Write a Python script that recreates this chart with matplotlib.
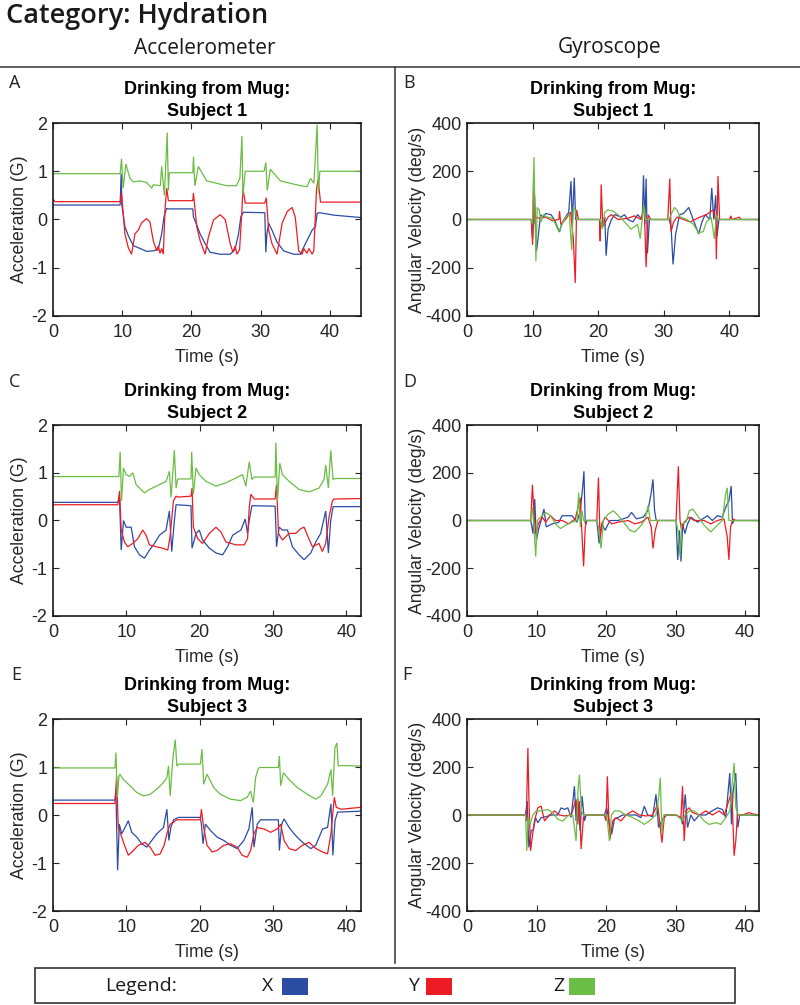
import matplotlib
matplotlib.use('Agg')
import matplotlib.pyplot as plt
from matplotlib.patches import Rectangle
from matplotlib.lines import Line2D

plt.rcParams['axes.unicode_minus'] = False

# ---------------- data (time in s) ----------------
# Panel A: accelerometer, subject 1
A_X_t = [0, 9.7, 9.85, 9.95, 10.39, 10.87, 11.6, 12.56, 13.53, 14.49, 15.2, 15.7, 16.04, 16.43, 16.67,
         20.2, 20.29, 20.68, 21.26, 21.98, 22.7, 24.15, 25.6, 26.3, 26.8, 27.15, 27.5,
         30.6, 30.75, 30.9, 31.16, 31.64, 32.37, 33.33, 34.78, 35.75, 36.47, 36.96, 37.44, 37.92, 38.16, 38.55, 40.6, 44.5]
A_X_v = [0.3, 0.3, 0.95, 0.3, -0.15, -0.33, -0.54, -0.6, -0.66, -0.65, -0.62, -0.3, 0.06, 0.23, 0.22,
         0.22, 0.05, -0.08, -0.3, -0.5, -0.68, -0.72, -0.72, -0.62, -0.3, 0.06, 0.15,
         0.14, -0.68, -0.3, -0.08, -0.22, -0.47, -0.65, -0.72, -0.72, -0.5, -0.36, -0.22, -0.15, 0.13, 0.14, 0.09, 0.04]
A_Y_t = [0, 0.3, 0.6, 9.7, 9.9, 10.39, 10.87, 11.35, 11.84, 12.32, 12.8, 13.53, 14.0, 14.49, 14.98,
         15.2, 15.46, 15.7, 15.94, 16.18, 16.43, 16.67,
         20.2, 20.29, 20.77, 21.26, 21.98, 22.46, 23.19, 24.15, 24.88, 25.6, 26.0, 26.3, 26.57, 26.96, 27.3, 27.44, 27.78,
         30.6, 30.82, 31.16, 31.64, 32.37, 33.1, 33.82, 34.54, 35.0, 35.5, 36.0, 36.23, 36.7, 36.96, 37.44, 37.68,
         38.07, 38.3, 38.65, 44.5]
A_Y_v = [0.42, 0.37, 0.37, 0.37, 0.55, -0.3, -0.58, -0.72, -0.3, -0.22, -0.07, 0.02, -0.05, -0.44, -0.65,
         -0.55, -0.7, -0.6, -0.72, 0.2, 0.65, 0.39,
         0.39, 0.55, -0.15, -0.44, -0.72, -0.36, -0.01, 0.1, 0.0, -0.5, -0.68, -0.55, -0.72, -0.62, 0.2, 0.65, 0.34,
         0.34, 0.45, -0.22, -0.5, -0.72, -0.08, 0.16, 0.25, 0.05, -0.65, -0.72, -0.6, -0.7, -0.6, -0.72, -0.65,
         0.62, 0.83, 0.36, 0.36]
A_Z_t = [0, 9.7, 9.9, 10.14, 10.53, 11.1, 11.6, 12.5, 13.5, 14.25, 14.5, 15.5, 15.7, 16.09, 16.5, 16.67, 16.8,
         20.2, 20.29, 20.5, 21.0, 22.2, 23.67, 25.1, 26.5, 27.0, 27.3, 27.44, 27.78,
         30.5, 30.75, 30.95, 31.4, 32.85, 34.3, 35.75, 36.7, 37.2, 37.7, 38.16, 38.35, 38.55, 44.5]
A_Z_v = [0.95, 0.95, 1.26, 0.65, 1.15, 0.86, 0.78, 0.8, 0.77, 0.65, 0.72, 0.7, 1.1, 0.5, 1.8, 0.6, 0.97,
         0.97, 1.3, 0.7, 1.1, 0.8, 0.75, 0.7, 0.7, 0.85, 1.73, 0.5, 1.0,
         1.0, 1.18, 0.6, 1.04, 0.8, 0.75, 0.7, 0.68, 0.85, 0.75, 1.97, 0.55, 1.0, 1.0]

# Panel B: gyroscope, subject 1
B_X_t = [0, 9.8, 10.0, 10.3, 10.6, 10.9, 11.2, 11.6, 12.0, 12.8, 13.3, 14.1, 14.4, 15.0, 15.5, 15.85, 16.05, 16.35, 16.55, 17.0,
         20.3, 20.6, 21.0, 21.2, 21.5, 22.0, 22.5, 23.5, 24.0, 24.5, 25.3, 26.0, 26.7, 26.9, 27.1, 27.3, 27.5, 27.8,
         30.8, 31.1, 31.4, 31.8, 32.4, 33.0, 33.8, 34.2, 34.6, 35.3, 35.8, 36.3, 37.0, 37.3, 37.6, 37.9, 38.1, 38.4, 44.5]
B_X_v = [0, 0, -80, 100, -130, -60, 20, 10, 25, 20, 0, -52, -20, 10, 30, 159, -10, 173, 0, 0,
         0, -30, 10, -150, -40, 0, 20, 10, 20, 0, -10, 20, 0, 183, -20, 170, -140, 0,
         0, -30, -186, -60, 20, 25, 50, 20, -10, -60, -10, 20, 0, 131, 0, 100, -70, 0, 0]
B_Y_t = [0, 9.8, 10.0, 10.15, 10.35, 10.5, 11.0, 12.0, 13.0, 14.0, 14.1, 14.3, 15.0, 15.8, 16.2, 16.5, 16.7, 17.0,
         20.2, 20.3, 20.45, 20.7, 21.5, 22.0, 23.0, 24.5, 25.5, 26.5, 27.0, 27.3, 27.6, 28.0,
         30.6, 30.9, 31.1, 31.5, 32.0, 33.0, 34.0, 35.5, 36.5, 37.5, 37.9, 38.0, 38.25, 38.5, 40.0, 40.2, 40.4, 41.5, 41.7, 42.0, 44.5]
B_Y_v = [0, 0, -105, 190, -20, 10, 5, 10, -5, 0, 35, -20, 0, 30, -80, -263, 40, 0,
         0, -90, 145, -30, 10, 20, 0, 5, 15, 0, 50, -197, 20, 0,
         0, 169, -50, -10, 10, 0, -10, 10, 20, 40, 0, -165, 180, 0, 0, 15, 0, 10, 0, 0, 0]
B_Z_t = [0, 9.8, 10.0, 10.2, 10.5, 10.7, 11.0, 11.3, 11.6, 12.2, 13.0, 13.5, 14.0, 14.5, 15.0, 15.6, 15.95, 16.2, 16.5, 16.7,
         20.3, 20.6, 21.0, 21.5, 22.2, 23.0, 24.0, 25.0, 25.5, 26.0, 26.4, 26.7, 26.9, 27.2,
         30.8, 31.1, 31.6, 32.0, 32.5, 33.5, 34.5, 35.3, 36.0, 36.5, 37.2, 37.7, 38.0, 38.3, 44.5]
B_Z_v = [0, 0, -20, 258, -172, 50, 40, -10, 20, 10, 5, -20, -50, -20, 10, 20, -127, 50, 40, 0,
         0, -40, 30, 40, 35, 20, -10, -40, -30, -20, -80, 0, 60, 0,
         0, 20, 50, 40, 10, 0, -20, -55, -50, -10, 10, -80, 20, 0, 0]

# Panel C: accelerometer, subject 2
C_X_t = [0, 8.84, 9.07, 9.3, 9.61, 9.98, 10.66, 11.11, 11.79, 12.47, 13.15, 13.83, 14.51, 15.42, 15.87, 16.19, 16.55, 16.78,
         18.82, 18.96, 19.5, 19.95, 20.4, 21.32, 22.22, 23.13, 23.81, 24.49, 25.62, 26.21, 26.53, 26.76, 27.12,
         30.29, 30.48, 30.84, 31.29, 31.97, 32.65, 33.56, 34.24, 35.15, 35.83, 36.5, 37.19, 37.55, 37.87, 38.19, 42.0]
C_X_v = [0.38, 0.38, 0.48, -0.62, 0.0, -0.14, -0.14, -0.55, -0.72, -0.79, -0.62, -0.48, -0.31, -0.2, 0.2, -0.65, 0.0, 0.33,
         0.31, -0.58, -0.27, -0.2, -0.41, -0.58, -0.68, -0.72, -0.55, -0.31, -0.2, 0.03, -0.27, 0.0, 0.31,
         0.3, -0.55, -0.14, -0.2, -0.2, -0.55, -0.72, -0.82, -0.68, -0.45, -0.27, 0.2, -0.68, 0.0, 0.29, 0.29]
C_Y_t = [0, 8.84, 9.07, 9.3, 9.75, 10.2, 10.88, 11.56, 12.24, 12.7, 13.15, 14.06, 14.97, 15.65, 15.96, 16.42, 16.78, 17.0,
         18.82, 18.96, 19.14, 19.73, 20.4, 21.32, 22.22, 22.9, 23.58, 24.94, 26.08, 26.53, 26.76, 26.98, 27.44,
         30.29, 30.48, 30.75, 31.29, 32.2, 33.1, 33.79, 34.24, 34.69, 35.37, 36.28, 36.73, 37.19, 37.64, 38.1, 38.32, 42.0]
C_Y_v = [0.33, 0.33, 0.62, -0.2, -0.45, -0.55, -0.48, -0.38, -0.2, -0.31, -0.51, -0.55, -0.58, -0.62, -0.34, 0.41, 0.51, 0.49,
         0.51, 0.68, -0.14, -0.38, -0.48, -0.27, -0.14, -0.24, -0.45, -0.51, -0.51, -0.38, 0.27, 0.55, 0.45,
         0.45, 0.75, -0.27, -0.41, -0.27, -0.27, -0.17, -0.14, -0.31, -0.55, -0.48, -0.65, -0.48, 0.07, 0.41, 0.45, 0.46]
C_Z_t = [0, 8.98, 9.16, 9.34, 9.61, 9.98, 10.43, 10.88, 11.34, 12.47, 13.15, 14.51, 15.42, 15.87, 16.1, 16.55, 16.78, 17.0,
         18.82, 18.91, 19.14, 19.5, 19.95, 20.86, 22.22, 23.58, 24.94, 25.85, 26.3, 26.76, 27.12, 27.44,
         30.29, 30.39, 30.61, 30.93, 31.29, 32.2, 33.56, 34.92, 36.28, 36.96, 37.19, 37.55, 37.87, 38.19, 38.55, 42.0]
C_Z_v = [0.92, 0.92, 1.44, 0.41, 1.1, 0.96, 0.92, 1.0, 0.75, 0.58, 0.65, 0.75, 0.82, 1.03, 0.48, 1.47, 0.68, 0.87,
         0.87, 1.44, 0.55, 1.1, 0.96, 0.82, 0.72, 0.79, 0.89, 0.96, 0.72, 1.23, 0.86, 0.91,
         0.91, 1.63, 0.41, 1.2, 0.96, 0.82, 0.65, 0.6, 0.68, 0.86, 1.16, 0.68, 1.47, 0.86, 0.88, 0.88]

# Panel D: gyroscope, subject 2
D_X_t = [0, 9.17, 9.5, 9.74, 9.98, 10.26, 10.59, 11.07, 11.4, 12.26, 13.21, 13.68, 14.39, 15.11, 15.82, 16.29, 16.63, 16.82, 17.01, 17.24,
         18.67, 19.0, 19.38, 19.86, 20.57, 21.76, 23.18, 23.66, 24.37, 25.32, 26.03, 26.5, 26.75, 26.98, 27.22,
         30.07, 30.31, 30.55, 30.78, 31.02, 31.35, 31.73, 32.21, 33.16, 34.58, 35.3, 36.01, 36.72, 37.2, 37.67, 38.0, 38.19, 38.38, 42.0]
D_X_v = [0, 0, -55, 90, -83, -41, -7, 48, -27, -14, -7, 20, 20, 20, -7, 41, 137, 206, -14, 0,
         0, -96, -14, -41, 0, 0, 14, 34, 7, 14, 41, 117, 172, 41, 0,
         0, -165, -41, -172, -14, -55, -14, 14, -7, 20, 0, 20, 14, 55, 82, 144, -14, 0, 0]
D_Y_t = [0, 9.17, 9.41, 9.64, 9.88, 10.26, 10.83, 11.31, 12.02, 12.73, 13.68, 14.63, 15.58, 16.29, 16.53, 16.77, 17.01, 17.24,
         18.67, 18.91, 19.14, 19.38, 19.86, 20.81, 21.76, 23.18, 24.13, 25.08, 26.03, 26.5, 26.75, 27.08, 27.46,
         30.07, 30.4, 30.64, 30.88, 31.26, 31.97, 32.68, 34.11, 35.06, 36.01, 36.96, 37.43, 37.67, 37.91, 38.29, 38.62, 42.0]
D_Y_v = [0, 0, 150, 27, -55, -14, 14, -7, 20, 0, 0, -14, 7, 96, -55, -192, -27, 0,
         0, 180, -83, -14, 14, -14, -7, 0, -14, -7, 14, -27, -117, -41, 0,
         0, 227, 0, -41, -7, 14, 0, 0, -14, 0, 7, -69, -165, -27, 7, 0, 0]
D_Z_t = [0, 9.17, 9.41, 9.64, 9.88, 10.12, 10.59, 11.31, 12.02, 12.73, 13.44, 14.16, 15.11, 15.82, 16.06, 16.29, 16.53, 16.77,
         18.67, 18.91, 19.29, 19.62, 20.33, 21.05, 21.76, 22.71, 23.42, 24.13, 24.85, 25.56, 26.03, 26.37, 26.75,
         30.07, 30.4, 30.64, 30.88, 31.5, 31.97, 32.45, 33.16, 34.11, 35.06, 36.01, 36.72, 37.2, 37.43, 37.67, 38.15, 42.0]
D_Z_v = [0, 0, 55, -27, -151, 0, 14, 34, 20, -14, -34, -20, -7, 0, 117, -27, 41, 0,
         0, -27, -117, 0, 27, 41, 20, -14, -41, -48, -27, 0, 62, 0, 0,
         0, -55, -151, -14, -7, 41, 48, 20, -20, -48, -20, 0, 110, 137, 0, 0, 0]

# Panel E: accelerometer, subject 3
E_X_t = [0, 8.45, 8.58, 8.81, 9.04, 9.36, 9.82, 10.27, 10.73, 11.42, 12.1, 12.79, 13.47, 14.16, 15.07, 15.53, 15.8, 16.07, 16.44, 17.12,
         20.09, 20.23, 20.46, 20.78, 21.46, 22.37, 23.29, 24.2, 25.11, 26.03, 26.71, 27.17, 27.4, 27.85, 28.31,
         30.73, 30.87, 31.19, 31.51, 32.19, 33.1, 34.02, 35.16, 35.84, 36.76, 37.44, 37.9, 38.17, 38.45, 38.81, 42.0]
E_X_v = [0.31, 0.31, 0.5, -1.15, -0.19, -0.39, -0.26, -0.12, -0.36, -0.46, -0.6, -0.67, -0.53, -0.39, -0.26, 0.12, -0.53, -0.26, -0.1, -0.05,
         -0.05, -0.19, -0.6, -0.19, -0.32, -0.46, -0.53, -0.63, -0.7, -0.53, -0.29, 0.16, -0.67, -0.19, -0.1,
         -0.1, -0.74, -0.19, -0.08, -0.26, -0.43, -0.57, -0.7, -0.63, -0.29, -0.26, 0.23, -0.84, -0.12, 0.06, 0.08]
E_Y_t = [0, 8.45, 8.68, 8.9, 9.22, 9.68, 10.27, 10.96, 11.64, 12.56, 13.24, 13.93, 14.61, 15.16, 15.53, 15.98, 16.44, 16.89,
         20.09, 20.23, 20.55, 21.0, 21.69, 22.37, 23.29, 24.2, 25.11, 25.8, 26.48, 26.94, 27.4, 27.85, 28.77, 29.68, 30.59,
         31.05, 31.51, 32.19, 33.1, 34.02, 34.93, 35.84, 36.76, 37.44, 37.9, 38.36, 38.63, 39.27, 42.0]
E_Y_v = [0.24, 0.24, 0.81, -0.26, -0.39, -0.6, -0.84, -0.74, -0.63, -0.57, -0.67, -0.84, -0.81, -0.63, -0.39, -0.19, -0.15, -0.1,
         -0.1, 0.12, -0.26, -0.63, -0.77, -0.74, -0.63, -0.6, -0.67, -0.84, -0.88, -0.74, -0.39, -0.26, -0.29, -0.36, -0.29,
         -0.19, -0.53, -0.7, -0.74, -0.63, -0.57, -0.7, -0.77, -0.81, -0.39, 0.37, 0.16, 0.12, 0.16]
E_Z_t = [0, 8.45, 8.58, 8.77, 9.0, 9.13, 9.59, 10.5, 11.42, 12.33, 13.24, 14.16, 15.07, 15.53, 15.75, 15.98, 16.35, 16.67, 16.89, 17.12,
         20.09, 20.32, 20.55, 21.0, 21.92, 22.83, 24.2, 25.57, 26.48, 26.94, 27.31, 27.63, 27.95, 28.17,
         30.73, 30.87, 31.05, 31.42, 32.19, 33.33, 34.7, 35.84, 36.53, 37.44, 37.9, 38.13, 38.45, 38.72, 38.9, 39.27, 42.0]
E_Z_v = [0.98, 0.98, 1.3, 0.37, 0.81, 0.85, 0.74, 0.61, 0.47, 0.4, 0.43, 0.54, 0.68, 0.78, 1.02, 0.4, 1.19, 1.57, 1.02, 1.06,
         1.06, 1.37, 0.64, 0.85, 0.57, 0.43, 0.33, 0.3, 0.37, 0.5, 0.26, 0.78, 0.95, 0.99,
         0.99, 1.23, 0.61, 0.88, 0.74, 0.57, 0.43, 0.33, 0.4, 0.64, 0.95, 0.4, 1.4, 1.5, 1.02, 1.03, 1.02]

# Panel F: gyroscope, subject 3
F_X_t = [0, 8.42, 8.66, 8.9, 9.23, 9.57, 9.86, 10.19, 10.67, 11.39, 12.11, 13.06, 13.54, 14.02, 14.5, 14.98, 15.45, 15.69, 15.93, 16.27,
         16.56, 16.89, 17.13,
         19.76, 20.1, 20.48, 20.81, 21.2, 21.67, 22.39, 23.35, 24.31, 25.02, 25.5, 25.98, 26.7, 27.18, 27.56, 28.13, 28.52,
         30.05, 30.77, 31.0, 31.39, 31.72, 32.2, 32.68, 33.4, 34.35, 35.07, 36.03, 36.75, 37.22, 37.8, 38.04, 38.28, 38.66, 38.95, 39.23, 42.0]
F_X_v = [0, 0, 58, -135, -66, -59, -11, -32, -11, -7, 0, 0, 30, 23, 30, -10, 120, -25, 72, -66,
         79, -25, 0,
         0, 30, -39, -80, -18, -11, 0, 0, 0, -11, 37, 0, -7, 86, -52, -18, 0,
         0, -11, -39, 86, -52, 0, -25, 0, 0, 14, 30, 23, -11, 175, -39, 99, 175, -52, 0, 0]
F_Y_t = [0, 8.42, 8.52, 8.76, 8.9, 9.14, 9.38, 9.71, 10.19, 10.67, 11.15, 11.87, 12.58, 13.3, 14.02, 14.98, 15.69, 15.93, 16.17, 16.41,
         16.75, 17.13,
         19.76, 20.0, 20.19, 20.38, 20.57, 20.96, 21.44, 22.15, 22.87, 23.83, 24.78, 25.74, 26.7, 27.42, 27.75, 28.04, 28.37, 28.71,
         30.05, 30.77, 31.0, 31.24, 31.48, 31.96, 32.44, 33.4, 34.35, 35.31, 36.27, 36.99, 37.8, 38.09, 38.42, 38.66, 38.9, 39.62,
         40.57, 41.05, 42.0]
F_Y_v = [0, 0, -25, 279, 72, -149, -94, -25, 30, 37, -25, 0, 17, 0, -4, 0, 65, -39, 58, -142,
         -11, 0,
         0, -25, 161, 0, -101, -25, -11, -25, 0, 17, 0, -4, 0, 44, -39, -115, -11, 0,
         0, -11, 120, -108, 17, 30, 10, 0, 17, 0, 17, 0, 72, 99, -170, -108, 0, 0,
         10, 5, 0]
F_Z_t = [0, 8.42, 8.61, 8.8, 9.09, 9.47, 9.95, 10.67, 11.63, 12.34, 13.06, 13.78, 14.5, 15.22, 15.69, 15.98, 16.17, 16.46, 16.75,
         19.76, 20.1, 20.48, 20.77, 21.2, 21.91, 22.87, 23.83, 24.78, 25.5, 26.22, 27.18, 27.56, 27.8, 28.04, 28.28,
         30.05, 30.53, 31.0, 31.39, 31.96, 32.68, 33.4, 34.11, 34.83, 35.79, 36.51, 37.22, 37.8, 38.18, 38.42, 38.66, 39.04, 39.62, 42.0]
F_Z_v = [0, 0, -149, -11, -39, 0, 17, 17, 23, 10, -18, -25, -4, 0, -108, 113, 168, 17, 0,
         0, 0, -108, 0, 17, 17, 0, -11, -25, -39, -25, 0, 72, 155, -80, 0,
         0, -11, -25, 0, 17, 17, 0, -25, -39, -32, -39, -11, 17, 141, 217, 30, 0, 0, 0]

panel_letters = ['A', 'B', 'C', 'D', 'E', 'F']
subjects = ['Subject 1', 'Subject 1', 'Subject 2', 'Subject 2', 'Subject 3', 'Subject 3']
column_titles = ['Accelerometer', 'Gyroscope']
axis_names = ['X', 'Y', 'Z']
accel_ticks = [-2, -1, 0, 1, 2]
gyro_ticks = [-400, -200, 0, 200, 400]
time_ticks = [0, 10, 20, 30, 40]
x_max = [44.5, 44.5, 42, 42, 42, 42]

series = [
    [(A_X_t, A_X_v), (A_Y_t, A_Y_v), (A_Z_t, A_Z_v)],
    [(B_X_t, B_X_v), (B_Y_t, B_Y_v), (B_Z_t, B_Z_v)],
    [(C_X_t, C_X_v), (C_Y_t, C_Y_v), (C_Z_t, C_Z_v)],
    [(D_X_t, D_X_v), (D_Y_t, D_Y_v), (D_Z_t, D_Z_v)],
    [(E_X_t, E_X_v), (E_Y_t, E_Y_v), (E_Z_t, E_Z_v)],
    [(F_X_t, F_X_v), (F_Y_t, F_Y_v), (F_Z_t, F_Z_v)],
]

# ---------------- styling ----------------
COLORS = ['#2c4ca4', '#ec1c24', '#6cbd45']
TICK_COL = '#262626'
AX_FONT = 'Liberation Sans'
HEAD_FONT = ['Open Sans', 'DejaVu Sans']

W, H = 800, 1005
fig = plt.figure(figsize=(W / 100, H / 100), dpi=100)


def fx(x):
    return x / W


def fy(y):
    return 1 - y / H


# pixel boxes of the six axes (x0, y0, x1, y1)
boxes = [(53, 123, 361, 316), (467, 123, 759, 316),
         (53, 425, 361, 616), (467, 425, 759, 616),
         (53, 719, 361, 911), (467, 719, 759, 911)]
letter_pos = [(9, 83), (403, 83), (9, 382), (403, 382), (11, 675), (402, 675)]

for i, (x0, y0, x1, y1) in enumerate(boxes):
    ax = fig.add_axes([fx(x0), fy(y1), (x1 - x0) / W, (y1 - y0) / H])
    gyro = (i % 2 == 1)
    for (t, v), c in zip(series[i], COLORS):
        ax.plot(t, v, color=c, lw=0.9, solid_joinstyle='miter')
    ax.set_xlim(0, x_max[i])
    if gyro:
        ax.set_ylim(-400, 400)
        ax.set_yticks(gyro_ticks)
    else:
        ax.set_ylim(-2, 2)
        ax.set_yticks(accel_ticks)
    ax.set_xticks(time_ticks)
    ax.tick_params(direction='in', top=True, right=True, length=4, width=0.8,
                   labelsize=13, colors=TICK_COL, pad=4)
    ax.tick_params(axis='x', pad=6)
    for lab in ax.get_xticklabels() + ax.get_yticklabels():
        lab.set_fontfamily(AX_FONT)
    for sp in ax.spines.values():
        sp.set_linewidth(1.2)
        sp.set_color('#1a1a1a')
    cx = (x0 + x1) / 2
    fig.text(fx(cx), fy(y0 - 34), 'Drinking from Mug:', ha='center', va='center',
             fontsize=13, fontweight='bold', family=AX_FONT, color='black')
    fig.text(fx(cx), fy(y0 - 12), subjects[i], ha='center', va='center',
             fontsize=13, fontweight='bold', family=AX_FONT, color='black')
    fig.text(fx(cx), fy(y1 + 41), 'Time (s)', ha='center', va='center',
             fontsize=12.7, family=AX_FONT, color=TICK_COL)
    ylab_x = 20 if not gyro else 417
    fig.text(fx(ylab_x), fy((y0 + y1) / 2), 'Angular Velocity (deg/s)' if gyro else 'Acceleration (G)',
             rotation=90, ha='center', va='center', fontsize=12.7, family=AX_FONT, color=TICK_COL)
    lx, ly = letter_pos[i]
    fig.text(fx(lx), fy(ly), panel_letters[i], ha='left', va='center',
             fontsize=13, family=HEAD_FONT, color='#222222')

# headings
fig.text(fx(6), fy(16), 'Category: Hydration', ha='left', va='center',
         fontsize=19.5, fontweight='semibold', family=HEAD_FONT, color='#1a1a1a')
fig.text(fx(205), fy(48), column_titles[0], ha='center', va='center',
         fontsize=15, family=HEAD_FONT, color='#1a1a1a')
fig.text(fx(610), fy(48), column_titles[1], ha='center', va='center',
         fontsize=15, family=HEAD_FONT, color='#1a1a1a')

# separator lines
fig.add_artist(Line2D([0, 1], [fy(67), fy(67)], color='#444444', lw=1.2))
fig.add_artist(Line2D([fx(395), fx(395)], [fy(67), fy(963)], color='#444444', lw=1.2))

# legend box
fig.add_artist(Rectangle((fx(35), fy(1003)), (735 - 35) / W, (1003 - 968) / H,
                         fill=False, edgecolor='#333333', lw=1.2))
fig.text(fx(141), fy(986), 'Legend:', ha='center', va='center', fontsize=14,
         family=HEAD_FONT, color='#1a1a1a')
legend_lab_x = [268, 413, 559]
legend_rect_x = [282, 426, 569]
for name, c, lxp, rx in zip(axis_names, COLORS, legend_lab_x, legend_rect_x):
    fig.text(fx(lxp), fy(986), name, ha='center', va='center', fontsize=14,
             family=HEAD_FONT, color='#1a1a1a')
    fig.add_artist(Rectangle((fx(rx), fy(995)), 26 / W, 17 / H, facecolor=c, edgecolor='none'))

fig.savefig('out.png', dpi=100)
